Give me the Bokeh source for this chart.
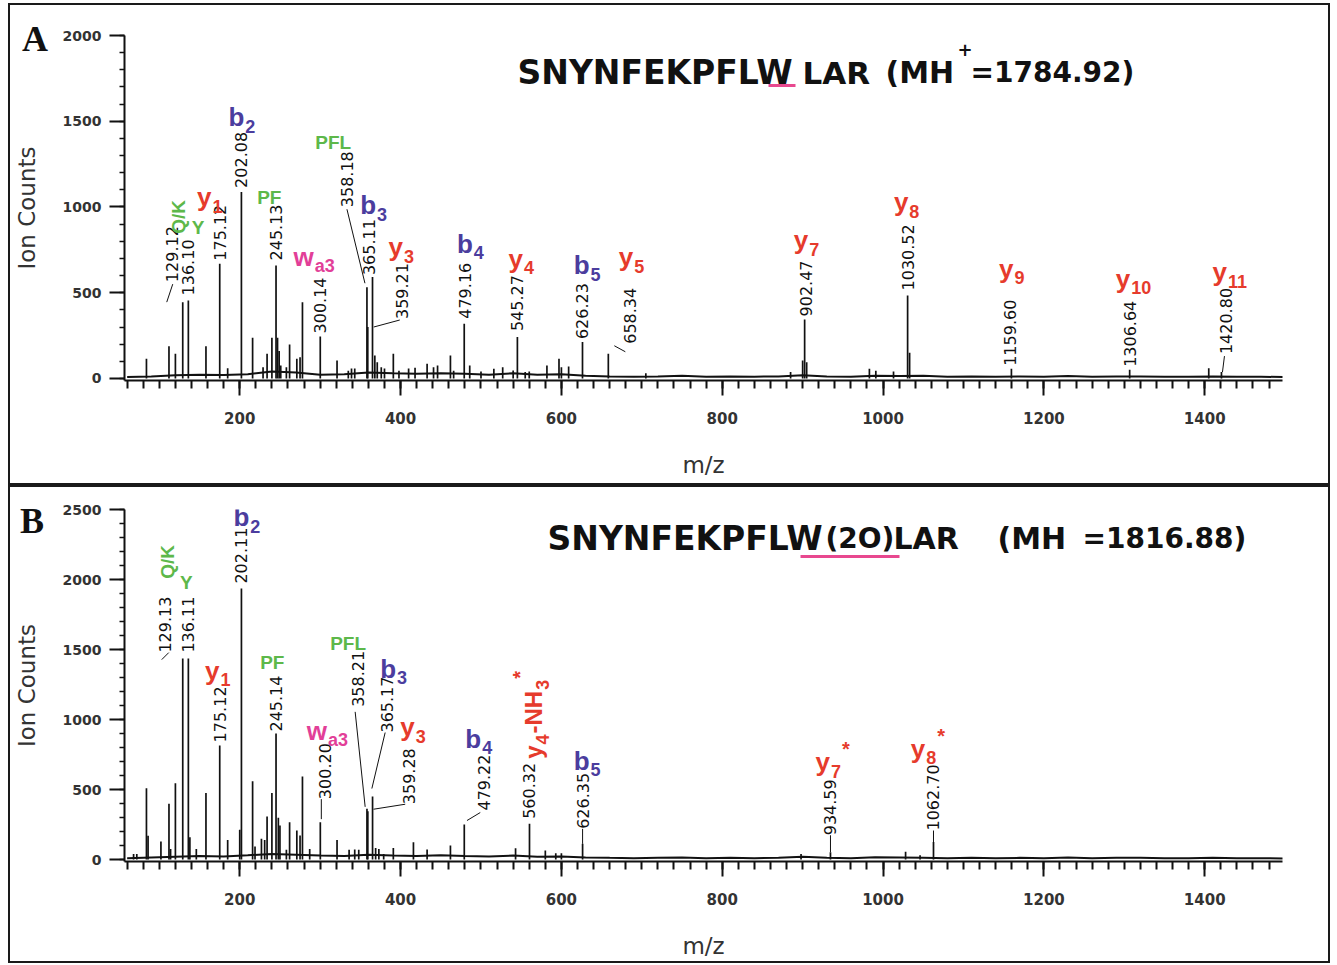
import math
import re
from bokeh.plotting import figure
from bokeh.models import Label, FixedTicker, Range1d, ColumnDataSource, Div
from bokeh.layouts import column
from bokeh.embed import file_html
from bokeh.resources import INLINE

# ============================ DATA ============================
X_TICKS = [200, 400, 600, 800, 1000, 1200, 1400]
X_MINOR = list(range(60, 1501, 20))
A_Y_TICKS = [0, 500, 1000, 1500, 2000]
B_Y_TICKS = [0, 500, 1000, 1500, 2000, 2500]

# ---- Panel A : SNYNFEKPFLWLAR ----
A_ann_mz = [129.12, 136.10, 175.12, 202.08, 245.13, 300.14, 358.18, 359.21, 365.11,
            479.16, 545.27, 626.23, 658.34, 902.47, 1030.52, 1159.60, 1306.64, 1420.80]
A_ann_int = [445, 455, 669, 1088, 659, 245, 532, 300, 591,
             319, 241, 212, 144, 344, 484, 56, 50, 37]
A_other_mz = [84, 112, 120, 158, 185, 216, 229, 234, 240, 247, 249, 251, 258, 262, 271,
              275, 278, 321, 335, 339, 343, 368, 371, 376, 380, 391, 398, 410, 418, 433,
              441, 446, 462, 466, 486, 500, 516, 527, 540, 555, 560, 582, 597, 600, 609,
              705, 885, 900, 905, 983, 991, 1013, 1033, 1405]
A_other_int = [115, 188, 144, 188, 60, 237, 66, 144, 237, 237, 160, 75, 65, 198, 115,
               124, 445, 105, 45, 58, 58, 134, 95, 66, 58, 144, 45, 58, 62, 86,
               66, 75, 134, 45, 76, 40, 56, 66, 47, 37, 40, 76, 115, 66, 70,
               30, 37, 105, 95, 56, 45, 40, 150, 60]
A_base_mz = list(range(60, 1501, 30))
A_base_int = [8, 12, 18, 22, 20, 25, 40, 35, 22, 25, 35, 30, 28, 30, 28, 22, 30, 22, 25, 15,
              12, 10, 12, 15, 10, 12, 10, 12, 18, 12, 10, 15, 14, 16, 10, 12, 10, 12, 10, 14,
              10, 12, 12, 10, 10, 12, 10, 10, 8]
A_ion_text = ["Q/K", "Y", "y_{1}", "b_{2}", "PF", "w_{a3}", "PFL", "b_{3}", "y_{3}", "b_{4}",
              "y_{4}", "b_{5}", "y_{5}", "y_{7}", "y_{8}", "y_{9}", "y_{10}", "y_{11}"]
A_ion_mz = [129.12, 136.10, 175.12, 202.08, 245.13, 300.14, 358.18, 365.11, 359.21, 479.16,
            545.27, 626.23, 658.34, 902.47, 1030.52, 1159.60, 1306.64, 1420.80]
A_ion_kind = ["g", "g", "y", "b", "g", "w", "g", "b", "y", "b",
              "y", "b", "y", "y", "y", "y", "y", "y"]
A_title = ["SNYNFEKPFLW", "LAR", "(MH", "+", "=1784.92)"]

# ---- Panel B : SNYNFEKPFLW(2O)LAR ----
B_ann_mz = [129.13, 136.11, 175.12, 202.11, 245.14, 300.20, 358.21, 359.28, 365.17,
            479.22, 560.32, 626.35, 934.59, 1062.70]
B_ann_int = [1435, 1435, 815, 1935, 900, 267, 362, 345, 450,
             250, 255, 112, 52, 125]
B_other_mz = [68, 72, 84, 86, 102, 112, 114, 120, 138, 146, 158, 185, 200, 216, 219,
              227, 231, 234, 240, 248, 250, 258, 262, 271, 275, 278, 287, 321, 336, 343,
              348, 369, 373, 379, 391, 416, 433, 462, 543, 580, 593, 600, 898, 1028, 1046]
B_other_int = [40, 40, 510, 170, 128, 398, 76, 545, 160, 76, 476, 140, 212, 559, 93,
               148, 140, 307, 476, 298, 243, 70, 267, 207, 171, 593, 76, 140, 70, 71,
               70, 83, 76, 40, 83, 124, 71, 100, 81, 64, 45, 45, 40, 55, 30]
B_base_mz = list(range(60, 1501, 30))
B_base_int = [10, 15, 20, 25, 22, 30, 40, 35, 28, 25, 35, 28, 25, 30, 25, 22, 28, 20, 22, 15,
              12, 10, 12, 14, 10, 12, 10, 12, 20, 12, 10, 16, 14, 12, 10, 12, 10, 12, 10, 14,
              10, 12, 12, 10, 10, 12, 10, 10, 8]
B_ion_text = ["Q/K", "Y", "y_{1}", "b_{2}", "PF", "w_{a3}", "PFL", "b_{3}", "y_{3}", "b_{4}",
              "y_{4}-NH_{3}^{*}", "b_{5}", "y_{7}^{*}", "y_{8}^{*}"]
B_ion_mz = [129.13, 136.11, 175.12, 202.11, 245.14, 300.20, 358.21, 365.17, 359.28, 479.22,
            560.32, 626.35, 934.59, 1062.70]
B_ion_kind = ["g", "g", "y", "b", "g", "w", "g", "b", "y", "b",
              "y", "b", "y", "y"]
B_title = ["SNYNFEKPFLW", "(2O)", "LAR", "(MH", "=1816.88)"]

PANEL_LETTERS = ["A", "B"]

# ============================ LAYOUT / STYLE ============================
COLORS = {"g": "#5db84a", "y": "#e63b2c", "b": "#4b3d9e", "w": "#e23f98"}
INK = "#111111"
XMIN, XMAX = 56.7, 1496.7
FIG_W = 1322
BL, BR = 114, 50
FRAME_LEFT = 10 + BL
SX = (FIG_W - BL - BR) / (XMAX - XMIN)


class Geo:
    def __init__(self, h, bt, bb, ymin, ymax, top):
        self.h, self.bt, self.bb, self.ymin, self.ymax, self.top = h, bt, bb, ymin, ymax, top
        self.sy = (h - bt - bb) / (ymax - ymin)
        self.frame_bottom = top + h - bb

    def page(self, xp, yp):
        return XMIN + (xp - FRAME_LEFT) / SX, self.ymin + (self.frame_bottom - yp) / self.sy


GEO_A = Geo(482, 30, 107, -12, 2000, 5)
GEO_B = Geo(478, 22, 104, -14, 2500, 487)

# numeric-label layout: (dx px, gap px above peak top, leader ((dx,up),(dx,up)) or None)
A_num_layout = [(-11, 20, ((-16, 0), (-10, 18))), (0, 5, None), (0, 3, None), (0, 4, None),
                (0, 5, None), (0, 3, None), (-20, 80, ((-20, 78), (-2, 4))),
                (34, 8, ((6, 0), (32, 7))), (-4, 2, None), (1, 5, None), (0, 6, None),
                (0, 3, None), (22, 10, ((6, 8), (17, 2))), (1, 3, None), (0, 5, None),
                (-1, 3, None), (0, 3, None), (4.5, 18, ((1, 0), (3, 16)))]
B_num_layout = [(-18, 6, ((-21, -1), (-14, 6))), (0, 6, None), (0, 3, None), (0, 5, None),
                (0, 2, None), (5, 23, ((1, 3), (1, 23))), (-8.5, 102, ((-11.8, 97), (-1.8, 2))),
                (41, 7, ((5.7, 2), (37.4, 7))), (14.3, 64, ((12.6, 64), (-0.7, 8))),
                (19.3, 14, ((2.7, 4), (16, 12))), (0, 5, None), (0, 15, ((0, 0), (0, 15))),
                (0, 17, ((0, 0), (0, 17))), (0, 11.5, ((0, 0), (0, 11.5)))]
# ion-label layout: (dx px, up px from the m/z axis at 0, rotated)
A_ion_layout = [(-4.5, 144.7, True), (3.4, 151.3, False), (-22.7, 181.3, False), (-13, 261.3, False),
                (-18.9, 181.3, False), (-26.8, 121.3, False), (-51.7, 236, False), (-12.3, 173, False),
                (20.7, 131.3, False), (-7.3, 134.7, False), (-8.8, 119.7, False), (-8.8, 113, False),
                (10.4, 121.3, False), (-10.8, 138, False), (-13.7, 176.3, False), (-12.4, 109.7, False),
                (-13.8, 99.7, False), (-8.9, 106.3, False)]
B_ion_layout = [(-15.7, 280.7, True), (-8.3, 277, False), (-14.7, 189, False), (-8, 342.3, False),
                (-15.9, 197.3, False), (-13.5, 129, False), (-36.8, 215.7, False), (7.6, 190.7, False),
                (32.4, 132.3, False), (1, 120.7, False), (4, 100.7, True), (-8.9, 99, False),
                (-14.9, 97.3, False), (-22.8, 110.7, False)]
# title pieces: (left px, baseline px, size px) on the page
A_title_pos = [(517, 72, 33), (802, 72, 31), (885, 72, 30), (957, 49, 18), (970, 72, 28)]
B_title_pos = [(547, 538, 33), (825, 538, 28), (893, 538, 30), (997, 538, 30), (1082, 538, 28)]
A_underline = ((768, 85), (795, 85))
B_underline = ((800, 556), (899, 556))
# panel letters: (left px, top px) on the page
LETTER_POS = [(17, 16), (15, 498)]

EM = {"a": .556, "b": .611, "w": .778, "y": .556, "-": .333, "N": .722, "H": .722, "*": .389,
      "Q": .778, "/": .278, "K": .722, "P": .667, "F": .611, "L": .611, "Y": .667}


def text_w(s, size):
    return sum(EM.get(c, .556) for c in s) * size


def runs(s):
    out = []
    for m in re.finditer(r"_\{([^}]*)\}|\^\{([^}]*)\}|([^_^]+)", s):
        if m.group(1) is not None:
            out.append((m.group(1), "sub"))
        elif m.group(2) is not None:
            out.append((m.group(2), "sup"))
        else:
            out.append((m.group(3), "main"))
    return out


def lab(p, x, y, text, dx=0.0, up=0.0, size=16, color=INK, font="Liberation Sans",
        bold=False, angle=0.0, align="left", baseline="alphabetic"):
    p.add_layout(Label(x=x, y=y, x_offset=dx, y_offset=up, text=text, text_font=font,
                       text_font_size=f"{size}px",
                       text_font_style="bold" if bold else "normal",
                       text_color=color, angle=angle, text_align=align,
                       text_baseline=baseline))


def ion(p, mz, markup, color, dx, up, rot, green):
    main = 19 if green else (24 if rot else 26)
    pos = 0.0
    for text, kind in runs(markup):
        if kind == "main":
            sz, shift = main, 0
        elif kind == "sub":
            sz, shift = 18, -9
        else:
            sz, shift = 20, 13
        if rot:
            lab(p, mz, 0, text, dx=dx - shift, up=up + pos, size=sz, color=color,
                bold=True, angle=math.pi / 2)
        else:
            lab(p, mz, 0, text, dx=dx + pos, up=up + shift, size=sz, color=color, bold=True)
        pos += text_w(text, sz) + 1


def build(geo, yticks, ann_mz, ann_int, oth_mz, oth_int, base_mz, base_int,
          ion_text, ion_mz, ion_kind, num_layout, ion_layout,
          title, title_pos, underline, margin):
    p = figure(width=FIG_W, height=geo.h, output_backend="svg", toolbar_location=None,
               x_range=Range1d(XMIN, XMAX), y_range=Range1d(geo.ymin, geo.ymax),
               min_border_left=BL, min_border_right=BR,
               min_border_top=geo.bt, min_border_bottom=geo.bb)
    p.margin = margin
    p.styles = {"border": "2px solid #1a1a1a"}
    p.outline_line_color = None
    p.grid.visible = False
    p.background_fill_color = "white"
    p.border_fill_color = "white"

    xa = p.xaxis[0]
    xa.ticker = FixedTicker(ticks=X_TICKS, minor_ticks=X_MINOR)
    xa.axis_label = "m/z"
    ya = p.yaxis[0]
    ya.ticker = FixedTicker(ticks=yticks, minor_ticks=list(range(0, yticks[-1] + 1, 100)))
    ya.axis_label = "Ion Counts"
    for ax in (xa, ya):
        ax.axis_line_color = INK
        ax.axis_line_width = 2
        ax.major_tick_line_color = INK
        ax.minor_tick_line_color = INK
        ax.major_tick_line_width = 2
        ax.major_tick_in = 0
        ax.major_tick_out = 15
        ax.minor_tick_in = 0
        ax.major_label_text_font = "DejaVu Sans"
        ax.major_label_text_font_style = "bold"
        ax.major_label_text_color = "#333333"
        ax.axis_label_text_font = "DejaVu Sans"
        ax.axis_label_text_font_style = "normal"
        ax.axis_label_text_font_size = "23px"
        ax.axis_label_text_color = "#333333"
    xa.minor_tick_out = 8
    xa.minor_tick_line_width = 2
    xa.major_label_text_font_size = "15px"
    xa.major_label_standoff = 16
    xa.axis_label_standoff = 25
    ya.minor_tick_out = 5
    ya.minor_tick_line_width = 1.5
    ya.major_label_text_font_size = "14px"
    ya.major_label_standoff = 8
    ya.axis_label_standoff = 20

    # spectrum: baseline profile + sticks
    p.line(base_mz, base_int, line_color=INK, line_width=2)
    mz_all = ann_mz + oth_mz
    in_all = ann_int + oth_int
    src = ColumnDataSource(dict(x=mz_all, top=in_all, bottom=[0] * len(mz_all)))
    p.segment(x0="x", y0="bottom", x1="x", y1="top", source=src,
              line_color=INK, line_width=1.7)

    # numeric m/z labels with leaders
    lx0, ly0, lx1, ly1 = [], [], [], []
    for mz, it, (dx, gap, leader) in zip(ann_mz, ann_int, num_layout):
        lab(p, mz, it, f"{mz:.2f}", dx=dx, up=gap, size=16, font="DejaVu Sans",
            angle=math.pi / 2, baseline="middle")
        if leader:
            (a, b), (c, d) = leader
            lx0.append(mz + a / SX)
            ly0.append(it + b / geo.sy)
            lx1.append(mz + c / SX)
            ly1.append(it + d / geo.sy)
    p.segment(x0=lx0, y0=ly0, x1=lx1, y1=ly1, line_color=INK, line_width=1)

    # ion-type labels
    for txt, mz, kind, (dx, up, rot) in zip(ion_text, ion_mz, ion_kind, ion_layout):
        ion(p, mz, txt, COLORS[kind], dx, up, rot, kind == "g")

    # sequence title
    for txt, (xp, yp, sz) in zip(title, title_pos):
        x, y = geo.page(xp, yp)
        lab(p, x, y, txt, size=sz, font="DejaVu Sans", bold=True, color=INK)
    (ux0, uy0), (ux1, uy1) = underline
    a0, b0 = geo.page(ux0, uy0)
    a1, b1 = geo.page(ux1, uy1)
    p.segment(x0=[a0], y0=[b0], x1=[a1], y1=[b1], line_color="#e8488f", line_width=3)
    return p


pA = build(GEO_A, A_Y_TICKS, A_ann_mz, A_ann_int, A_other_mz, A_other_int, A_base_mz, A_base_int,
           A_ion_text, A_ion_mz, A_ion_kind, A_num_layout, A_ion_layout,
           A_title, A_title_pos, A_underline, (3, 0, 0, 8))
pB = build(GEO_B, B_Y_TICKS, B_ann_mz, B_ann_int, B_other_mz, B_other_int, B_base_mz, B_base_int,
           B_ion_text, B_ion_mz, B_ion_kind, B_num_layout, B_ion_layout,
           B_title, B_title_pos, B_underline, (0, 0, 0, 8))

# panel letters overlaid on the page (placed after the plots)
letters = []
for t, (lx, ly) in zip(PANEL_LETTERS, LETTER_POS):
    letters.append(Div(text=t, width=40, height=40, styles={
        "position": "absolute", "left": f"{lx}px", "top": f"{ly}px",
        "font-family": "'Liberation Serif', serif", "font-weight": "bold",
        "font-size": "36px", "line-height": "36px", "color": INK, "z-index": "10"}))

layout = column(pA, pB, *letters)
open("out.html", "w").write(file_html(layout, INLINE))
